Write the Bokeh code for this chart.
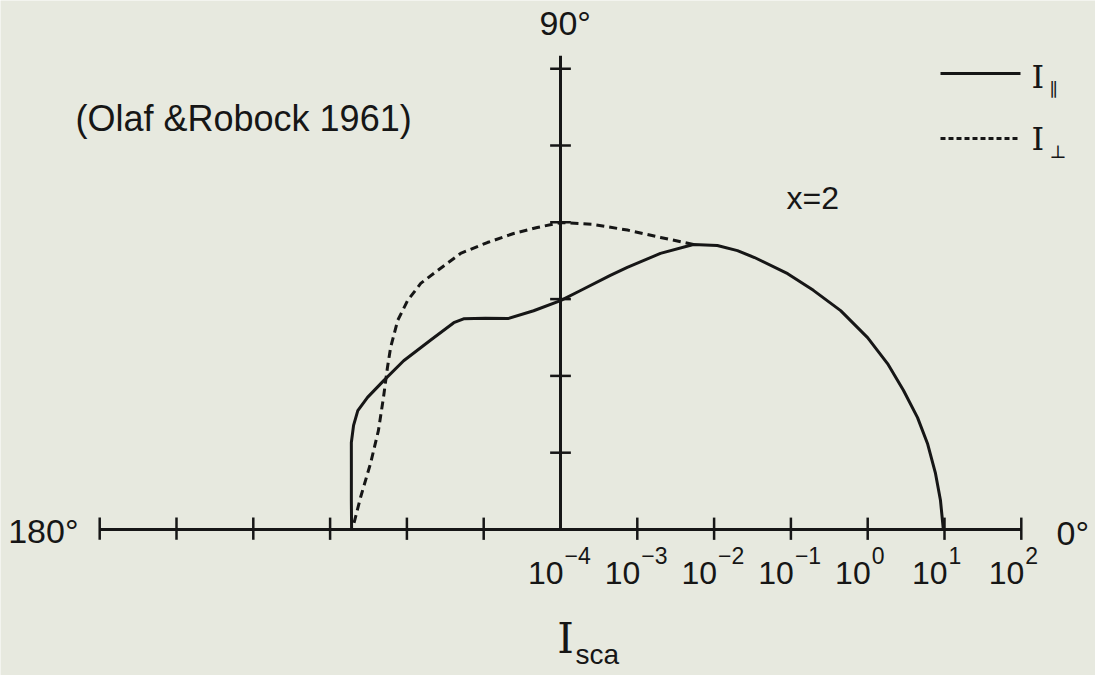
import numpy as np
from bokeh.plotting import figure
from bokeh.models import Range1d, Label
from bokeh.core.properties import value
from bokeh.embed import file_html
from bokeh.resources import INLINE

# Polar scattering diagram, size parameter x = 2 (Olaf & Robock 1961).
# Angle = scattering angle in degrees, radius = log10 of scattered intensity.
theta_par = [0, 4.4, 8.5, 13.2, 17.4, 22.1, 26.9, 32.0, 38.0, 43.4, 48.4,
             54.5, 57.6, 61.1, 65.0, 70.1, 75.7, 78.9, 85.2, 90, 97, 104,
             109.6, 114.7, 117.3, 124.5, 132.9, 139.9, 145.6, 149.6, 153.3,
             157.4, 164.2, 172, 180]
logi_par = [0.985, 0.962, 0.937, 0.908, 0.872, 0.819, 0.775, 0.715, 0.629,
            0.532, 0.455, 0.35, 0.30, 0.225, 0.095, -0.177, -0.479, -0.629,
            -0.877, -1.02, -1.13, -1.17, -1.08, -0.98, -0.97, -1.01, -1.00,
            -0.99, -0.955, -0.94, -0.984, -1.05, -1.17, -1.25, -1.28]

theta_perp = [65.0, 71.1, 77.4, 84, 90, 94.4, 99.0, 104.3, 109.9, 115.4,
              119.6, 123.7, 127.9, 133.0, 136.9, 143.3, 151.5, 160.8, 170.9, 180]
logi_perp = [0.095, 0.02, -0.005, -0.005, -0.003, -0.056, -0.098, -0.144,
             -0.177, -0.267, -0.315, -0.414, -0.549, -0.757, -0.914, -1.125,
             -1.302, -1.381, -1.363, -1.29]

decades = [-4, -3, -2, -1, 0, 1, 2]
decade_exps = ["\u22124", "\u22123", "\u22122", "\u22121", "0", "1", "2"]

R0 = decades[0]              # the pole of the diagram is 10^-4
RMAX = decades[-1] - R0      # six decades out to 10^2

PAPER = "#e7e9df"
INK = "#161616"
SANS = "Liberation Sans"
SERIF = "DejaVu Serif"

W, H = 1095, 675
PX = 76.8                    # pixels per decade
CX, CY = 560, 529            # pole position in pixels (from top-left)


def gx(px):
    return (px - CX) / PX


def gy(py):
    return (CY - py) / PX


def polar(theta_deg, logi):
    r = np.asarray(logi, dtype=float) - R0
    t = np.radians(np.asarray(theta_deg, dtype=float))
    return r * np.cos(t), r * np.sin(t)


p = figure(width=W, height=H,
           x_range=Range1d(gx(0), gx(W)), y_range=Range1d(gy(H), gy(0)),
           output_backend="svg", toolbar_location=None,
           x_axis_location=None, y_axis_location=None, min_border=0,
           outline_line_color=None, background_fill_color=PAPER,
           border_fill_color=PAPER)
p.grid.visible = False

# axes: 180°–0° baseline and the 90° direction
p.line([-RMAX, RMAX], [0, 0], line_color=INK, line_width=3)
p.line([0, 0], [0, RMAX + 0.17], line_color=INK, line_width=3)

tick = 0.135
hx = [s * (d - R0) for s in (-1, 1) for d in decades[1:]]
p.segment(x0=hx, y0=[-tick] * len(hx), x1=hx, y1=[tick + 0.02] * len(hx),
          line_color=INK, line_width=2.5)
vy = [d - R0 for d in decades[1:]]
p.segment(x0=[-tick] * len(vy), y0=vy, x1=[tick] * len(vy), y1=vy,
          line_color=INK, line_width=2.5)

# intensity curves
xp, yp = polar(theta_par, logi_par)
p.line(xp, yp, line_color=INK, line_width=3, line_join="round")
xq, yq = polar(theta_perp, logi_perp)
p.line(xq, yq, line_color=INK, line_width=3, line_dash="8 5",
       line_join="round")

# decade labels under the 0° half of the baseline
tick_r = [d - R0 for d in decades]
p.text(x=tick_r, y=[gy(572)] * len(tick_r), text=["10"] * len(tick_r),
       text_align="right", text_baseline="middle", x_offset=3,
       text_font=value(SANS), text_font_size="32px", text_color=INK)
p.text(x=tick_r, y=[gy(555)] * len(tick_r), text=decade_exps,
       text_align="left", text_baseline="middle", x_offset=4,
       text_font=value(SANS), text_font_size="23px", text_color=INK)


def label(px, py, text, align="left", font=SANS, size="34px"):
    p.add_layout(Label(x=gx(px), y=gy(py), text=text, text_align=align,
                       text_baseline="middle", text_font=font,
                       text_font_size=size, text_color=INK))


# angle labels
label(78, 530, "180°", align="right")
label(1056, 532, "0°")
label(539, 22, "90°")

# axis title I_sca
label(565, 638, "I", align="center", font=SERIF, size="42px")
label(575, 654, "sca", size="28px")

# annotations
label(75, 118, "(Olaf &Robock 1961)", size="36px")
label(786, 197, "x=2", size="32px")

# key
p.line([gx(940), gx(1020)], [gy(73), gy(73)], line_color=INK, line_width=3)
p.line([gx(940), gx(1020)], [gy(138), gy(138)], line_color=INK,
       line_width=3, line_dash="5 3")
for yk, sub in ((76, "\u2225"), (138, "\u22a5")):
    label(1031, yk, "I", font=SERIF, size="32px")
    label(1049, yk + 13, sub, font=SERIF, size="18px")

open("out.html", "w").write(file_html(p, INLINE))
